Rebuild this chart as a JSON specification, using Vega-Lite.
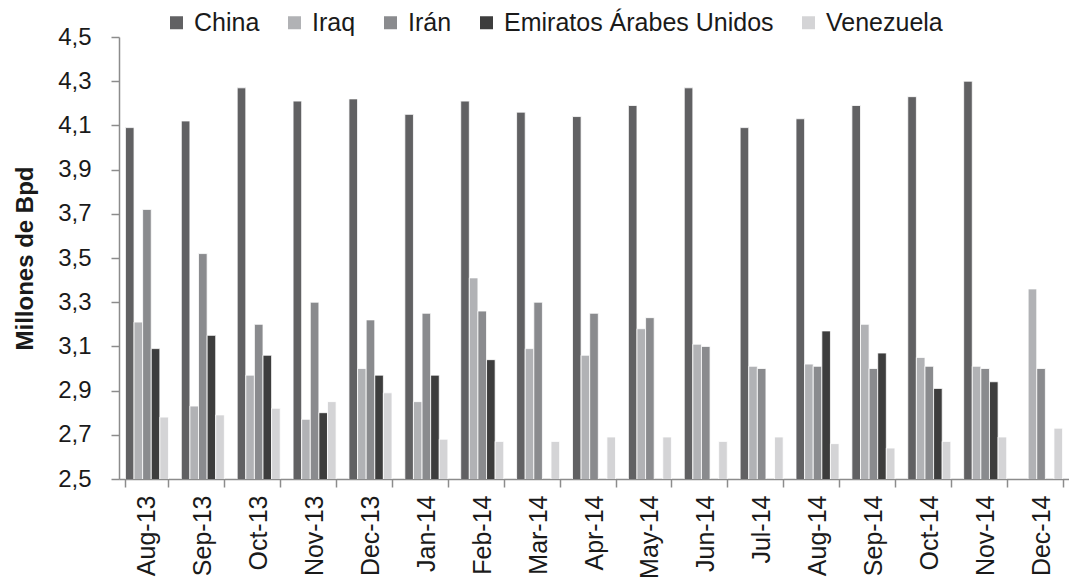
{
  "$schema": "https://vega.github.io/schema/vega-lite/v6.json",
  "autosize": {"type": "none"},
  "padding": {"left": 119, "top": 37, "right": 0, "bottom": 100},
  "width": 950,
  "height": 442,
  "background": "white",
  "config": {
    "font": "Liberation Sans",
    "view": {"stroke": null},
    "axis": {"grid": false, "domainColor": "#8c8c8c", "tickColor": "#8c8c8c", "labelColor": "#1a1a1a", "titleColor": "#1a1a1a", "labelFont": "Liberation Sans", "titleFont": "Liberation Sans"}
  },
  "data": {
    "values": [
      {"mes": "Aug-13", "pais": "China", "valor": 4.09},
      {"mes": "Aug-13", "pais": "Iraq", "valor": 3.21},
      {"mes": "Aug-13", "pais": "Irán", "valor": 3.72},
      {"mes": "Aug-13", "pais": "Emiratos Árabes Unidos", "valor": 3.09},
      {"mes": "Aug-13", "pais": "Venezuela", "valor": 2.78},
      {"mes": "Sep-13", "pais": "China", "valor": 4.12},
      {"mes": "Sep-13", "pais": "Iraq", "valor": 2.83},
      {"mes": "Sep-13", "pais": "Irán", "valor": 3.52},
      {"mes": "Sep-13", "pais": "Emiratos Árabes Unidos", "valor": 3.15},
      {"mes": "Sep-13", "pais": "Venezuela", "valor": 2.79},
      {"mes": "Oct-13", "pais": "China", "valor": 4.27},
      {"mes": "Oct-13", "pais": "Iraq", "valor": 2.97},
      {"mes": "Oct-13", "pais": "Irán", "valor": 3.20},
      {"mes": "Oct-13", "pais": "Emiratos Árabes Unidos", "valor": 3.06},
      {"mes": "Oct-13", "pais": "Venezuela", "valor": 2.82},
      {"mes": "Nov-13", "pais": "China", "valor": 4.21},
      {"mes": "Nov-13", "pais": "Iraq", "valor": 2.77},
      {"mes": "Nov-13", "pais": "Irán", "valor": 3.30},
      {"mes": "Nov-13", "pais": "Emiratos Árabes Unidos", "valor": 2.80},
      {"mes": "Nov-13", "pais": "Venezuela", "valor": 2.85},
      {"mes": "Dec-13", "pais": "China", "valor": 4.22},
      {"mes": "Dec-13", "pais": "Iraq", "valor": 3.00},
      {"mes": "Dec-13", "pais": "Irán", "valor": 3.22},
      {"mes": "Dec-13", "pais": "Emiratos Árabes Unidos", "valor": 2.97},
      {"mes": "Dec-13", "pais": "Venezuela", "valor": 2.89},
      {"mes": "Jan-14", "pais": "China", "valor": 4.15},
      {"mes": "Jan-14", "pais": "Iraq", "valor": 2.85},
      {"mes": "Jan-14", "pais": "Irán", "valor": 3.25},
      {"mes": "Jan-14", "pais": "Emiratos Árabes Unidos", "valor": 2.97},
      {"mes": "Jan-14", "pais": "Venezuela", "valor": 2.68},
      {"mes": "Feb-14", "pais": "China", "valor": 4.21},
      {"mes": "Feb-14", "pais": "Iraq", "valor": 3.41},
      {"mes": "Feb-14", "pais": "Irán", "valor": 3.26},
      {"mes": "Feb-14", "pais": "Emiratos Árabes Unidos", "valor": 3.04},
      {"mes": "Feb-14", "pais": "Venezuela", "valor": 2.67},
      {"mes": "Mar-14", "pais": "China", "valor": 4.16},
      {"mes": "Mar-14", "pais": "Iraq", "valor": 3.09},
      {"mes": "Mar-14", "pais": "Irán", "valor": 3.30},
      {"mes": "Mar-14", "pais": "Venezuela", "valor": 2.67},
      {"mes": "Apr-14", "pais": "China", "valor": 4.14},
      {"mes": "Apr-14", "pais": "Iraq", "valor": 3.06},
      {"mes": "Apr-14", "pais": "Irán", "valor": 3.25},
      {"mes": "Apr-14", "pais": "Venezuela", "valor": 2.69},
      {"mes": "May-14", "pais": "China", "valor": 4.19},
      {"mes": "May-14", "pais": "Iraq", "valor": 3.18},
      {"mes": "May-14", "pais": "Irán", "valor": 3.23},
      {"mes": "May-14", "pais": "Venezuela", "valor": 2.69},
      {"mes": "Jun-14", "pais": "China", "valor": 4.27},
      {"mes": "Jun-14", "pais": "Iraq", "valor": 3.11},
      {"mes": "Jun-14", "pais": "Irán", "valor": 3.10},
      {"mes": "Jun-14", "pais": "Venezuela", "valor": 2.67},
      {"mes": "Jul-14", "pais": "China", "valor": 4.09},
      {"mes": "Jul-14", "pais": "Iraq", "valor": 3.01},
      {"mes": "Jul-14", "pais": "Irán", "valor": 3.00},
      {"mes": "Jul-14", "pais": "Venezuela", "valor": 2.69},
      {"mes": "Aug-14", "pais": "China", "valor": 4.13},
      {"mes": "Aug-14", "pais": "Iraq", "valor": 3.02},
      {"mes": "Aug-14", "pais": "Irán", "valor": 3.01},
      {"mes": "Aug-14", "pais": "Emiratos Árabes Unidos", "valor": 3.17},
      {"mes": "Aug-14", "pais": "Venezuela", "valor": 2.66},
      {"mes": "Sep-14", "pais": "China", "valor": 4.19},
      {"mes": "Sep-14", "pais": "Iraq", "valor": 3.20},
      {"mes": "Sep-14", "pais": "Irán", "valor": 3.00},
      {"mes": "Sep-14", "pais": "Emiratos Árabes Unidos", "valor": 3.07},
      {"mes": "Sep-14", "pais": "Venezuela", "valor": 2.64},
      {"mes": "Oct-14", "pais": "China", "valor": 4.23},
      {"mes": "Oct-14", "pais": "Iraq", "valor": 3.05},
      {"mes": "Oct-14", "pais": "Irán", "valor": 3.01},
      {"mes": "Oct-14", "pais": "Emiratos Árabes Unidos", "valor": 2.91},
      {"mes": "Oct-14", "pais": "Venezuela", "valor": 2.67},
      {"mes": "Nov-14", "pais": "China", "valor": 4.30},
      {"mes": "Nov-14", "pais": "Iraq", "valor": 3.01},
      {"mes": "Nov-14", "pais": "Irán", "valor": 3.00},
      {"mes": "Nov-14", "pais": "Emiratos Árabes Unidos", "valor": 2.94},
      {"mes": "Nov-14", "pais": "Venezuela", "valor": 2.69},
      {"mes": "Dec-14", "pais": "Iraq", "valor": 3.36},
      {"mes": "Dec-14", "pais": "Irán", "valor": 3.00},
      {"mes": "Dec-14", "pais": "Venezuela", "valor": 2.73}
    ]
  },
  "mark": {"type": "bar", "stroke": "white", "strokeWidth": 0.8, "clip": true},
  "encoding": {
    "x": {
      "field": "mes",
      "type": "nominal",
      "sort": ["Aug-13", "Sep-13", "Oct-13", "Nov-13", "Dec-13", "Jan-14", "Feb-14", "Mar-14", "Apr-14", "May-14", "Jun-14", "Jul-14", "Aug-14", "Sep-14", "Oct-14", "Nov-14", "Dec-14"],
      "scale": {"paddingInner": 0.23, "paddingOuter": 0.115},
      "axis": {"title": null, "labelAngle": -90, "labelFontSize": 25, "tickBand": "extent", "tickSize": 8, "labelPadding": 8, "domainWidth": 1.5, "tickWidth": 1.5}
    },
    "xOffset": {
      "field": "pais",
      "type": "nominal",
      "sort": ["China", "Iraq", "Irán", "Emiratos Árabes Unidos", "Venezuela"],
      "scale": {"paddingInner": 0}
    },
    "y": {
      "field": "valor",
      "type": "quantitative",
      "scale": {"domain": [2.5, 4.5], "nice": false, "zero": false},
      "axis": {
        "title": "Millones de Bpd",
        "titleFontSize": 24,
        "titleFontWeight": "bold",
        "titlePadding": 20,
        "values": [2.5, 2.7, 2.9, 3.1, 3.3, 3.5, 3.7, 3.9, 4.1, 4.3, 4.5],
        "labelExpr": "replace(format(datum.value, '.1f'), '.', ',')",
        "labelFontSize": 24,
        "labelPadding": 20,
        "tickSize": 8,
        "domainWidth": 1.5,
        "tickWidth": 1.5
      }
    },
    "color": {
      "field": "pais",
      "type": "nominal",
      "sort": ["China", "Iraq", "Irán", "Emiratos Árabes Unidos", "Venezuela"],
      "scale": {
        "domain": ["China", "Iraq", "Irán", "Emiratos Árabes Unidos", "Venezuela"],
        "range": ["#616163", "#b1b2b5", "#8a8b8e", "#3d3d3d", "#d4d4d6"]
      },
      "legend": {
        "title": null,
        "orient": "none",
        "legendX": 45,
        "legendY": -27,
        "direction": "horizontal",
        "symbolType": "square",
        "symbolSize": 169,
        "symbolStrokeWidth": 0,
        "labelFontSize": 25,
        "labelLimit": 400,
        "labelColor": "#1a1a1a",
        "columnPadding": 22,
        "symbolOffset": 0,
        "labelOffset": 5
      }
    }
  }
}
